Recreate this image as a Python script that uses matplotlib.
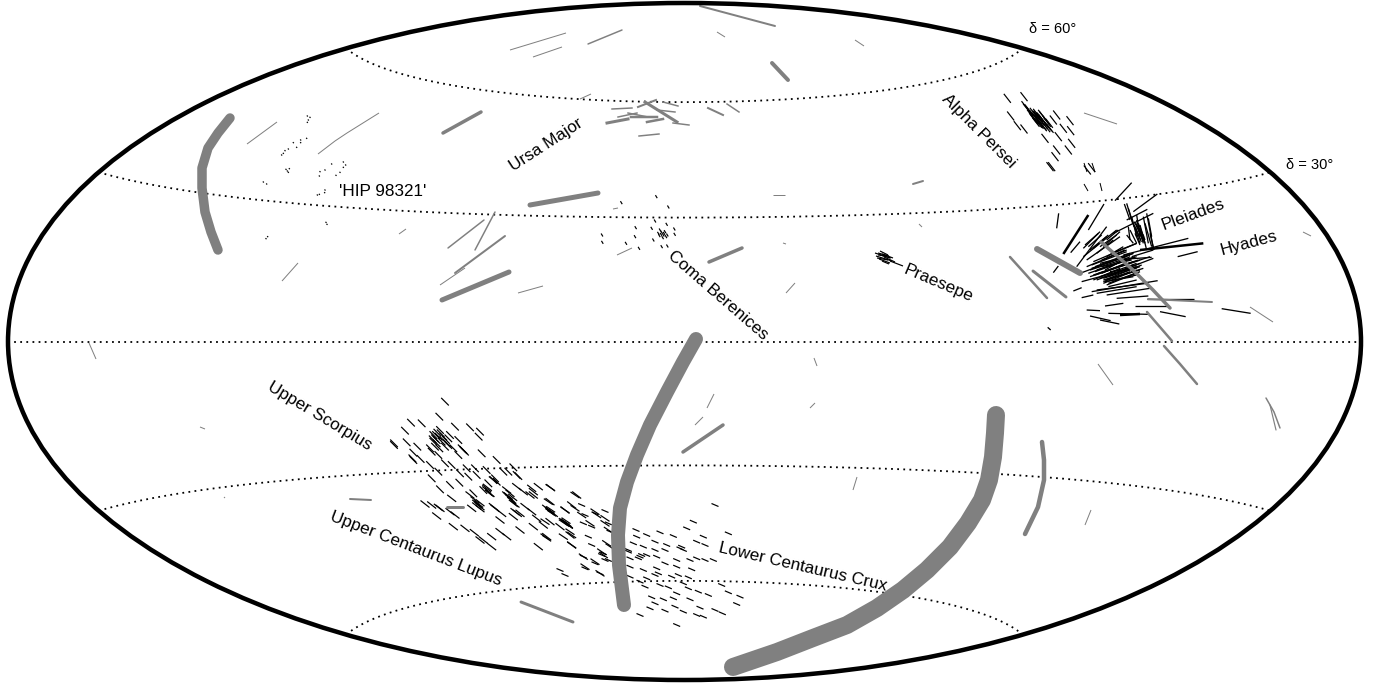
import numpy as np
import matplotlib
matplotlib.use("Agg")
import matplotlib.pyplot as plt
from matplotlib.collections import LineCollection
from matplotlib.patches import Ellipse

plt.rcParams['font.family'] = ['Liberation Sans', 'DejaVu Sans']

# values, plane coordinates (pixels from top left)
# big grey tracks
gray_x = [
    [996, 995, 993, 989, 982, 968, 950, 927, 903, 877, 847, 813, 777, 733],
    [696, 683, 667, 650, 637, 627, 620, 618, 619, 624],
    [230, 218, 208, 202, 202, 205, 211, 218],
    [1042, 1044, 1044, 1038, 1025],
    [442, 509], [530, 598], [443, 481], [772, 788], [683, 723], [521, 573], [709, 742],
    [1037, 1080], [1010, 1047], [1033, 1066], [1101, 1133, 1153, 1170],
    [1148, 1212], [1147, 1172], [1164, 1180, 1197], [447, 463], [700, 775],
    [913, 923], [350, 371], [455, 505], [448, 484], [475, 495], [588, 622], [1266, 1274, 1280], [1270, 1276],
]
gray_y = [
    [415, 433, 457, 480, 500, 523, 547, 570, 590, 608, 625, 638, 652, 667],
    [339, 362, 392, 425, 455, 482, 508, 535, 565, 605],
    [118, 133, 148, 168, 188, 212, 232, 250],
    [442, 460, 480, 507, 534],
    [300, 272], [205, 193], [133, 112], [63, 80], [452, 425], [602, 622], [262, 248],
    [249, 273], [257, 298], [271, 297], [242, 270, 290, 308],
    [299, 302], [312, 341], [346, 364, 384], [507, 507], [6, 26],
    [184, 181], [499, 500], [273, 236], [248, 220], [250, 212], [44, 30], [398, 412, 428], [405, 430],
]
gray_w = [18, 14, 9.5, 4.5, 5, 5, 3.5, 4, 3.5, 3, 3.5, 6, 2.5, 3, 3.5, 2, 2.5, 2.5, 3, 2,
          2, 2, 2, 1.5, 1.5, 1.5, 1.5, 1.2]

# thin grey tracks
thin_lines = [
    (1084, 113, 1117, 124), (1303, 232, 1311, 236), (1250, 307, 1273, 322), (1098, 364, 1113, 385),
    (510, 50, 566, 33), (533, 57, 562, 47), (717, 32, 725, 37), (855, 40, 864, 46),
    (1085, 525, 1091, 510), (853, 490, 857, 477), (200, 427, 205, 429), (89, 343, 96, 359),
    (282, 281, 298, 263), (440, 285, 465, 268), (518, 293, 543, 286), (617, 255, 632, 248),
    (786, 293, 795, 283), (814, 358, 817, 366), (810, 408, 815, 403), (707, 408, 714, 394),
    (695, 425, 703, 417), (399, 234, 406, 229), (773, 195, 785, 195), (919, 224, 922, 227),
    (783, 243, 786, 244), (247, 144, 277, 122), (318, 154, 335, 141), (335, 141, 347, 133), (347, 133, 379, 113),
    (580, 99, 591, 94), (613, 209, 618, 208), (224, 497, 225, 498),
]

# Ursa Major group
uma_lines = [
    (612, 109, 632, 108, 1.5), (618, 117, 637, 113, 1.5), (607, 123, 628, 119, 3),
    (631, 117, 657, 117, 2.5), (628, 113, 648, 117, 1.5), (647, 122, 663, 119, 2.5),
    (639, 136, 659, 134, 1.5), (638, 107, 656, 100, 2), (645, 102, 677, 122, 3),
    (663, 102, 678, 106, 1.5), (657, 110, 675, 112, 1.5), (673, 123, 689, 125, 1.5),
    (708, 108, 723, 115, 2), (727, 104, 739, 112, 1.5),
]

sco_x = [195, 178, 93, 125, 75, 42, 42, 80, 112, 100, 97, 122, 225, 270, 300, 296, 100,
         160, 170, 180, 190, 200, 165, 155, 175, 210, 235, 245, 255, 250, 220, 235, 195, 215, 150, 175, 155,
         165, 172, 185, 195, 160, 178, 150, 205, 250, 168, 176, 182, 190, 158, 170, 198, 205,
         305, 350, 400, 410, 415, 285, 260, 240, 265, 290, 320, 345, 340, 350, 325, 310, 325, 280, 180, 210, 238, 385, 370]
sco_y = [65, 110, 128, 130, 152, 195, 190, 187, 200, 240, 235, 237, 140, 142, 155, 170, 218,
         165, 180, 150, 170, 190, 200, 215, 225, 165, 180, 205, 215, 210, 205, 225, 250, 255, 255, 275, 295,
         175, 158, 185, 200, 185, 205, 205, 175, 210, 165, 170, 160, 180, 178, 190, 180, 195,
         220, 240, 262, 285, 288, 265, 265, 280, 290, 285, 270, 295, 300, 305, 310, 330, 335, 340, 328, 315, 308, 275, 275]

ucl_x = [270, 295, 275, 215, 135, 155, 180, 210, 225, 170, 220, 255, 283, 300, 335, 340, 365, 390, 400, 390,
         410, 380, 430, 455, 460, 475, 512, 435, 455, 420, 400, 510, 555, 560, 575, 590, 510, 470, 490, 510,
         540, 570, 360, 380, 420, 460, 500, 575, 475, 335, 310, 320, 328, 395, 385, 300, 290, 285, 345, 360,
         550, 565, 500, 520, 405, 450, 320, 330, 322, 385, 395, 405, 290, 300, 175, 555, 565, 510, 460, 340,
         296, 300, 380, 398, 412]
ucl_y = [345, 375, 385, 355, 372, 375, 385, 395, 405, 408, 440, 445, 458, 480, 470, 380, 400, 355, 370, 340,
         320, 330, 335, 325, 345, 320, 323, 380, 395, 400, 410, 395, 390, 430, 375, 345, 365, 415, 435, 425,
         440, 465, 455, 470, 450, 440, 470, 495, 500, 500, 480, 325, 340, 362, 348, 368, 378, 360, 385, 420,
         425, 435, 385, 400, 395, 345, 330, 340, 322, 350, 360, 372, 370, 380, 382, 430, 435, 392, 335, 300,
         372, 386, 345, 352, 400]

mid_x = [30, 105, 25, 75, 30, 35, 75, 80, 85, 90, 95, 20, 15, 70, 95, 15, 105, 125, 150, 165, 170, 195, 205, 200,
         210, 185, 190, 130, 165, 135, 195, 180, 70, 78, 28, 32]
mid_y = [22, 45, 65, 90, 95, 100, 125, 130, 135, 155, 165, 175, 170, 170, 195, 125, 85, 105, 130, 95, 105, 130,
         150, 190, 200, 215, 225, 230, 245, 260, 115, 280, 128, 122, 90, 88]

lcc_x = [125, 135, 165, 195, 130, 155, 205, 210, 288, 290, 320, 360, 400, 460, 440, 525, 470, 490, 495, 565,
         280, 310, 345, 345, 380, 420, 430, 375, 265, 300, 320, 350, 270, 410, 450, 470, 495, 520, 145, 155,
         190, 195, 130, 165, 135, 180, 270, 310, 350, 355, 410, 455, 375, 345, 395, 415, 445, 320, 270, 300,
         315, 360, 385, 430, 445, 545, 475, 505, 565, 600, 335, 345, 370, 410, 400, 450, 590, 330, 375, 405,
         430, 480, 525, 547, 470, 490, 300, 410, 60, 75, 295, 305, 425, 185, 205, 265]
lcc_y = [75, 105, 100, 93, 130, 140, 130, 155, 150, 170, 165, 157, 168, 125, 145, 75, 185, 170, 195, 160,
         190, 200, 185, 210, 195, 205, 210, 210, 215, 230, 225, 230, 235, 240, 240, 235, 240, 240, 170, 195,
         220, 240, 230, 250, 265, 280, 260, 270, 265, 280, 260, 268, 250, 285, 290, 285, 292, 295, 290, 305,
         320, 315, 322, 310, 325, 315, 335, 345, 337, 350, 352, 370, 358, 340, 355, 358, 372, 385, 392, 380,
         395, 383, 390, 400, 405, 410, 405, 435, 270, 285, 235, 225, 200, 225, 240, 210]

# Alpha Persei stars
per_x = [22, 72, 32, 52, 72, 210, 190, 212, 170, 160, 175, 135, 215, 170, 205, 165, 150, 155, 262, 275,
         75, 80, 90, 100, 105, 110, 115, 120, 125, 130, 135, 140, 145, 115, 150, 110, 125, 95, 105, 118, 128,
         85, 100, 112, 122, 132, 98, 108, 120, 130, 140, 138, 148, 108, 118, 92, 102, 112, 128, 142]
per_y = [40, 35, 93, 122, 132, 107, 130, 137, 90, 105, 155, 160, 175, 195, 195, 215, 245, 245, 255, 248,
         62, 70, 80, 90, 95, 100, 105, 95, 100, 108, 115, 120, 125, 115, 130, 85, 88, 90, 105, 112, 122,
         72, 82, 92, 108, 118, 98, 112, 118, 125, 128, 105, 115, 90, 98, 88, 102, 95, 92, 112]

# Hyades, ends in the crop at (980, 80)
hyades_lines = [
    (405, 362, 455, 308), (325, 450, 372, 372), (230, 445, 236, 400), (272, 518, 300, 485), (220, 578, 235, 558),
    (290, 560, 380, 440), (310, 505, 360, 455), (315, 495, 355, 460), (330, 510, 385, 465), (310, 530, 410, 450),
    (320, 540, 420, 470), (400, 460, 520, 400), (440, 420, 502, 388), (460, 395, 532, 342), (340, 545, 470, 490),
    (320, 560, 440, 510), (300, 580, 460, 520), (325, 580, 470, 530), (330, 590, 480, 540), (345, 585, 510, 530),
    (350, 600, 520, 535), (370, 595, 480, 560), (380, 600, 490, 565), (305, 605, 470, 560), (370, 610, 470, 570),
    (380, 615, 480, 575), (375, 605, 460, 590), (335, 635, 533, 602), (280, 633, 305, 623), (350, 630, 500, 610),
    (305, 653, 340, 645), (380, 645, 510, 625), (410, 655, 505, 648), (375, 678, 430, 670), (465, 677, 560, 677),
    (320, 690, 360, 692), (385, 700, 505, 703), (330, 708, 392, 722), (360, 720, 418, 732), (540, 695, 617, 710),
    (725, 686, 812, 700), (500, 658, 642, 658), (203, 742, 212, 750), (593, 530, 653, 515), (430, 525, 625, 475),
    (335, 565, 450, 525), (345, 575, 455, 535), (360, 590, 470, 550), (385, 590, 460, 555), (365, 580, 440, 548),
    (375, 570, 430, 540), (390, 560, 450, 530), (370, 605, 450, 575), (340, 600, 420, 565),
    (370, 500, 420, 455), (350, 520, 400, 480), (380, 530, 430, 500), (400, 540, 515, 532),
    (330, 570, 440, 535), (340, 585, 460, 545), (355, 580, 475, 540), (360, 595, 470, 560), (375, 600, 485, 555),
    (385, 610, 465, 580), (370, 600, 480, 570), (350, 570, 465, 530), (345, 560, 450, 520), (335, 555, 440, 515),
    (390, 575, 470, 565), (395, 585, 480, 550), (400, 600, 470, 585), (365, 560, 455, 540), (360, 550, 440, 530),
    (380, 550, 460, 520), (365, 540, 435, 510), (380, 480, 415, 450), (360, 500, 410, 465), (395, 520, 470, 490),
    (340, 505, 380, 470), (325, 500, 365, 465), (455, 530, 520, 510), (385, 620, 470, 600), (350, 640, 470, 620),
]
hyades_bold = [(250, 522, 325, 405), (480, 510, 670, 490), (420, 705, 480, 702)]

# Pleiades, same crop
pleiades_lines = [
    (433, 372, 450, 420), (440, 370, 458, 430), (445, 385, 462, 440), (455, 410, 470, 470), (460, 430, 480, 490),
    (470, 420, 490, 490), (475, 430, 495, 480), (480, 435, 495, 490), (490, 410, 505, 490), (500, 400, 520, 505),
    (495, 430, 515, 500), (505, 415, 515, 470), (450, 450, 470, 490), (465, 460, 480, 495), (440, 465, 460, 490),
    (445, 440, 450, 480), (490, 470, 500, 510), (510, 460, 522, 510), (470, 405, 480, 470), (468, 430, 488, 478),
    (463, 425, 485, 470), (473, 440, 492, 470), (462, 435, 482, 480), (470, 435, 490, 485), (478, 445, 492, 485),
    (466, 440, 484, 486),
]

# single stars north of the Hyades, plane coordinates
north_lines = [
    (1084, 163, 1087, 172), (1092, 163, 1095, 172), (1084, 184, 1088, 191), (1100, 183, 1102, 191),
]

# Praesepe
praesepe_lines = [
    (875, 253, 890, 258), (876, 256, 892, 261), (879, 259, 890, 263), (880, 251, 888, 255),
    (878, 255, 887, 256), (882, 261, 889, 264), (882, 254, 893, 258), (877, 258, 888, 260),
    (880, 255, 891, 258), (878, 253, 889, 256), (884, 257, 895, 262), (890, 261, 903, 266),
]

# Coma Berenices stars, crop at (580, 85)
coma_x = [66, 67, 167, 165, 138, 177, 225, 215, 260, 283, 284, 220, 245, 262, 240, 250, 245, 255, 238, 262, 248,
          265, 229, 124, 243, 252, 258, 235]
coma_y = [450, 472, 428, 455, 475, 490, 408, 430, 418, 432, 448, 465, 485, 483, 435, 450, 442, 440, 452, 450, 458,
          366, 335, 353, 448, 445, 455, 445]

# HIP 98321 specks, crop at (230, 90)
hip_x = [232, 240, 235, 232, 230, 212, 212, 190, 200, 175, 165, 160, 155, 178, 172, 168, 175, 100, 110,
         305, 340, 347, 340, 285, 270, 268, 330, 318, 285, 284, 262, 268, 288, 291, 113, 108]
hip_y = [78, 82, 90, 97, 145, 150, 158, 158, 172, 177, 182, 190, 195, 236, 243, 238, 247, 276, 282,
         222, 216, 225, 232, 240, 245, 258, 247, 256, 300, 308, 315, 313, 397, 403, 440, 446]

declinations = [-60, -30, 0, 30, 60]

label_text = ["Alpha Persei", "Ursa Major", "'HIP 98321'", "Coma Berenices", "Praesepe", "Pleiades", "Hyades",
              "Upper Scorpius", "Upper Centaurus Lupus", "Lower Centaurus Crux"]
label_x = [979, 546, 383, 718, 938, 1193, 1249, 320, 416, 803]
label_y = [131, 145, 191, 295, 284, 214, 243, 416, 549, 567]
label_rot = [-45, 33, 0, -41, -23, 20, 15, -31, -21, -13]

CX, CY, A, B = 684.5, 341.5, 676.5, 338.5
PX = 1 / 100 * 72  # points per pixel


def from_crop(x, y, ox, oy):
    return ox + np.array(x) / 3, oy + np.array(y) / 3


def star_segments(x, y, dx, dy):
    return [[(a - dx, b - dy), (a + dx, b + dy)] for a, b in zip(x, y)]


def crop_segments(lines, ox, oy):
    return [[(ox + l[0] / 3, oy + l[1] / 3), (ox + l[2] / 3, oy + l[3] / 3)] for l in lines]


def hammer_parallel(dec):
    lon = np.radians(np.linspace(-180, 180, 400))
    d = np.radians(dec)
    z = np.sqrt(1 + np.cos(d) * np.cos(lon / 2))
    return CX + A * np.cos(d) * np.sin(lon / 2) / z, CY - B * np.sin(d) / z


fig = plt.figure(figsize=(13.81, 6.87), dpi=100)
ax = fig.add_axes([0, 0, 1, 1])
ax.set_xlim(0, 1381)
ax.set_ylim(687, 0)
ax.axis('off')

for dec in declinations:
    px, py = hammer_parallel(dec)
    ax.plot(px, py, color='black', lw=1.8 * PX, ls=(0, (1, 2.4)), zorder=1)

ax.add_patch(Ellipse((CX, CY), 2 * A, 2 * B, fill=False, edgecolor='black', lw=4.5 * PX, zorder=6))

# black proper motion segments
black = 'black'
STAR_W = 1.2 * PX
sx, sy = from_crop(sco_x, sco_y, 380, 380)
ax.add_collection(LineCollection(star_segments(sx, sy, 3.8, 3.8), colors=black, linewidths=STAR_W, zorder=2))
sx, sy = from_crop(ucl_x, ucl_y, 380, 380)
ax.add_collection(LineCollection(star_segments(sx, sy, 4.5, 3.5), colors=black, linewidths=STAR_W, zorder=2))
sx, sy = from_crop(mid_x, mid_y, 540, 480)
ax.add_collection(LineCollection(star_segments(sx, sy, 4.5, 3), colors=black, linewidths=STAR_W, zorder=2))
sx, sy = from_crop(lcc_x, lcc_y, 540, 480)
ax.add_collection(LineCollection(star_segments(sx, sy, 3.5, 1.5), colors=black, linewidths=STAR_W, zorder=2))
sx, sy = from_crop(per_x, per_y, 1000, 85)
ax.add_collection(LineCollection(star_segments(sx, sy, 3.5, 4.5), colors=black, linewidths=STAR_W, zorder=2))
sx, sy = from_crop(coma_x, coma_y, 580, 85)
ax.add_collection(LineCollection(star_segments(sx, sy, 0.9, 1.5), colors=black, linewidths=STAR_W, zorder=2))
sx, sy = from_crop(hip_x, hip_y, 230, 90)
ax.add_collection(LineCollection(star_segments(sx, sy, 0.5, 0.5), colors=black, linewidths=1.2 * PX, zorder=2))

ax.add_collection(LineCollection(crop_segments(hyades_lines, 980, 80), colors=black, linewidths=1.3 * PX, zorder=2))
ax.add_collection(LineCollection(crop_segments(hyades_bold, 980, 80), colors=black, linewidths=2.5 * PX, zorder=2))
ax.add_collection(LineCollection(crop_segments(pleiades_lines, 980, 80), colors=black, linewidths=1.3 * PX, zorder=2))
ax.add_collection(LineCollection([[l[:2], l[2:]] for l in north_lines], colors=black, linewidths=1.0 * PX, zorder=2))
ax.add_collection(LineCollection([[l[:2], l[2:]] for l in praesepe_lines], colors=black, linewidths=1.2 * PX, zorder=2))

# grey tracks on top
gray = '#808080'
ax.add_collection(LineCollection([[l[:2], l[2:]] for l in thin_lines], colors=gray, linewidths=1.0 * PX, zorder=3))
for l in uma_lines:
    ax.plot([l[0], l[2]], [l[1], l[3]], color=gray, lw=l[4] * PX, zorder=3)
for xs, ys, w in zip(gray_x, gray_y, gray_w):
    ax.plot(xs, ys, color=gray, lw=w * PX, solid_capstyle='round', solid_joinstyle='round', zorder=4)

for t, x, y, r in zip(label_text, label_x, label_y, label_rot):
    ax.text(x, y, t, fontsize=12.3, rotation=r, rotation_mode='anchor', ha='center', va='center', color='black', zorder=5)

ax.text(1053, 29, "δ = 60°", fontsize=10.5, ha='center', va='center')
ax.text(1310, 165, "δ = 30°", fontsize=10.5, ha='center', va='center')

fig.savefig('out.png', dpi=100)
